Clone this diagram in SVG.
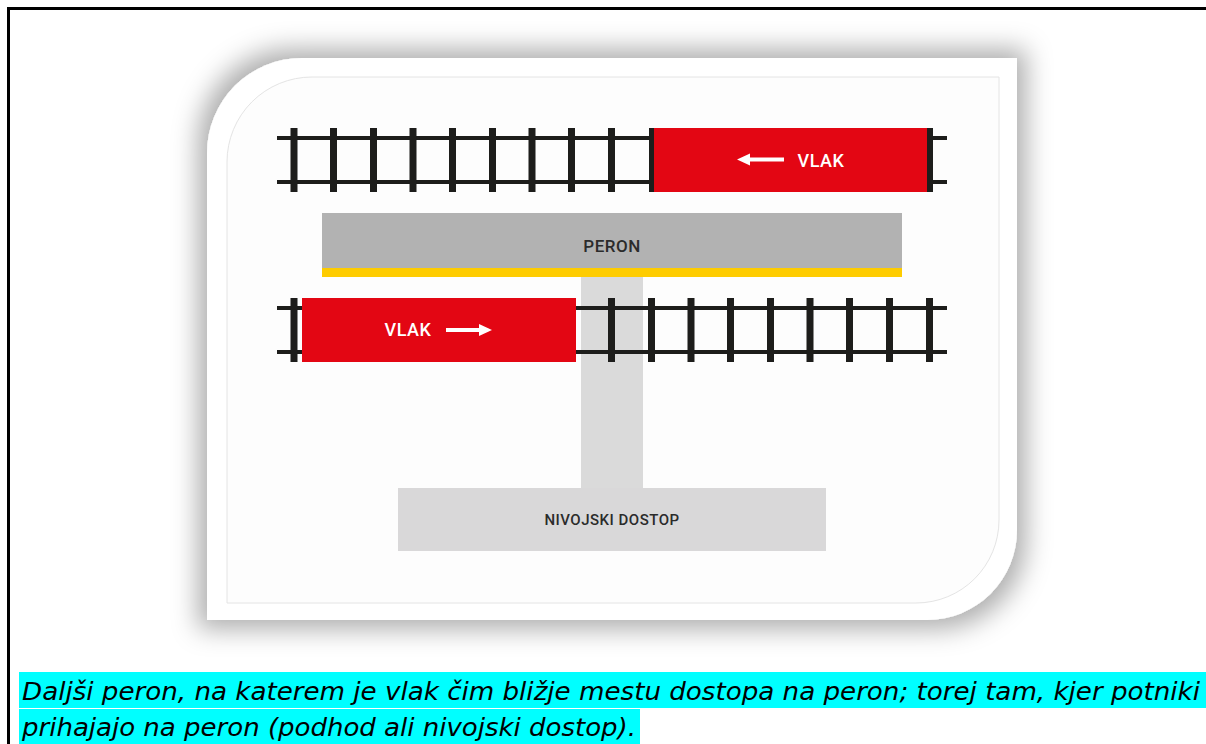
<svg xmlns="http://www.w3.org/2000/svg" width="1206" height="744" viewBox="0 0 1206 744">
  <defs>
    <filter id="glow" x="-20%" y="-20%" width="140%" height="140%">
      <feMorphology in="SourceAlpha" operator="dilate" radius="9" result="d"/>
      <feGaussianBlur in="d" stdDeviation="13" result="b"/>
      <feFlood flood-color="#000" flood-opacity="0.32"/>
      <feComposite in2="b" operator="in" result="s"/>
      <feMerge><feMergeNode in="s"/><feMergeNode in="SourceGraphic"/></feMerge>
    </filter>
    <style>
      .rail{fill:#1d1d1b}
      .tie{fill:#1d1d1b}
      .train{fill:#e30613}
      .lbl{font-family:Roboto,"DejaVu Sans",sans-serif;font-weight:500;text-anchor:middle;letter-spacing:0.5px}
      .w{fill:#ffffff}
      .d{fill:#2b2b2b}
      .cap{font-family:"DejaVu Sans Condensed","DejaVu Sans",sans-serif;font-style:italic;font-size:25px;fill:#000}
    </style>
  </defs>
  <rect x="0" y="0" width="1206" height="744" fill="#ffffff"/>
  <rect x="8.5" y="8.5" width="1220" height="760" fill="none" stroke="#000" stroke-width="3"/>

  <g id="frame">
    <path d="M 302 58 H 1017 V 530 A 90 90 0 0 1 927 620 H 207 V 153 A 95 95 0 0 1 302 58 Z" fill="#ffffff" filter="url(#glow)"/>
    <path d="M 312 77 H 999 V 520 A 83 83 0 0 1 916 603 H 227 V 162 A 85 85 0 0 1 312 77 Z" fill="#fdfdfd" stroke="#e4e4e4" stroke-width="1"/>
  </g>

  <g id="connectors">
    <rect id="underpass" x="581" y="277" width="62" height="211" fill="#dadada"/>
  </g>

  <g id="peron">
    <rect x="322" y="213" width="580" height="56" fill="#b2b2b2"/>
    <rect x="322" y="268" width="580" height="9" fill="#fecc00"/>
    <text class="lbl d" x="612" y="252" font-size="17">PERON</text>
  </g>

  <g id="track-top">
    <rect class="rail" x="277" y="136" width="373" height="4"/>
    <rect class="rail" x="277" y="180" width="373" height="4"/>
    <rect class="rail" x="933" y="136" width="14" height="4"/>
    <rect class="rail" x="933" y="180" width="14" height="4"/>
    <rect class="tie" x="290.5" y="128" width="7" height="64"/>
    <rect class="tie" x="330" y="128" width="7" height="64"/>
    <rect class="tie" x="370" y="128" width="7" height="64"/>
    <rect class="tie" x="409.5" y="128" width="7" height="64"/>
    <rect class="tie" x="449" y="128" width="7" height="64"/>
    <rect class="tie" x="489" y="128" width="7" height="64"/>
    <rect class="tie" x="528.5" y="128" width="7" height="64"/>
    <rect class="tie" x="568" y="128" width="7" height="64"/>
    <rect class="tie" x="608" y="128" width="7" height="64"/>
  </g>

  <g id="train-top">
    <rect class="train" x="650" y="128" width="283" height="64"/>
    <rect class="tie" x="649" y="128" width="5" height="64"/>
    <rect class="tie" x="927" y="128" width="6" height="64"/>
    <rect class="w" x="748" y="157.5" width="36" height="4"/>
    <polygon class="w" points="737,159.5 750,153.5 750,165.5"/>
    <text class="lbl w" x="821" y="167" font-size="18">VLAK</text>
  </g>

  <g id="track-bottom">
    <rect class="rail" x="277" y="306" width="25" height="4"/>
    <rect class="rail" x="277" y="350" width="25" height="4"/>
    <rect class="rail" x="576" y="306" width="371" height="4"/>
    <rect class="rail" x="576" y="350" width="371" height="4"/>
    <rect class="tie" x="290.5" y="298" width="7" height="64"/>
    <rect class="tie" x="608" y="298" width="7" height="64"/>
    <rect class="tie" x="648" y="298" width="7" height="64"/>
    <rect class="tie" x="687.5" y="298" width="7" height="64"/>
    <rect class="tie" x="727" y="298" width="7" height="64"/>
    <rect class="tie" x="767" y="298" width="7" height="64"/>
    <rect class="tie" x="806.5" y="298" width="7" height="64"/>
    <rect class="tie" x="846" y="298" width="7" height="64"/>
    <rect class="tie" x="886" y="298" width="7" height="64"/>
    <rect class="tie" x="926" y="298" width="7" height="64"/>
  </g>

  <g id="train-bottom">
    <rect class="train" x="302" y="298" width="274" height="64"/>
    <text class="lbl w" x="408" y="336" font-size="18">VLAK</text>
    <rect class="w" x="446" y="328" width="34" height="4"/>
    <polygon class="w" points="492,330 479,324 479,336"/>
  </g>

  <g id="nivojski">
    <rect x="398" y="488" width="428" height="63" fill="#d9d8d9"/>
    <text class="lbl d" x="612" y="525" font-size="15">NIVOJSKI DOSTOP</text>
  </g>

  <g id="caption">
    <rect x="19" y="672" width="1187" height="36" fill="#00ffff"/>
    <rect x="19" y="709" width="621" height="35" fill="#00ffff"/>
    <text class="cap" x="22" y="700" textLength="1178" lengthAdjust="spacingAndGlyphs">Daljši peron, na katerem je vlak čim bližje mestu dostopa na peron; torej tam, kjer potniki</text>
    <text class="cap" x="22" y="736" textLength="614" lengthAdjust="spacingAndGlyphs">prihajajo na peron (podhod ali nivojski dostop).</text>
  </g>
</svg>
